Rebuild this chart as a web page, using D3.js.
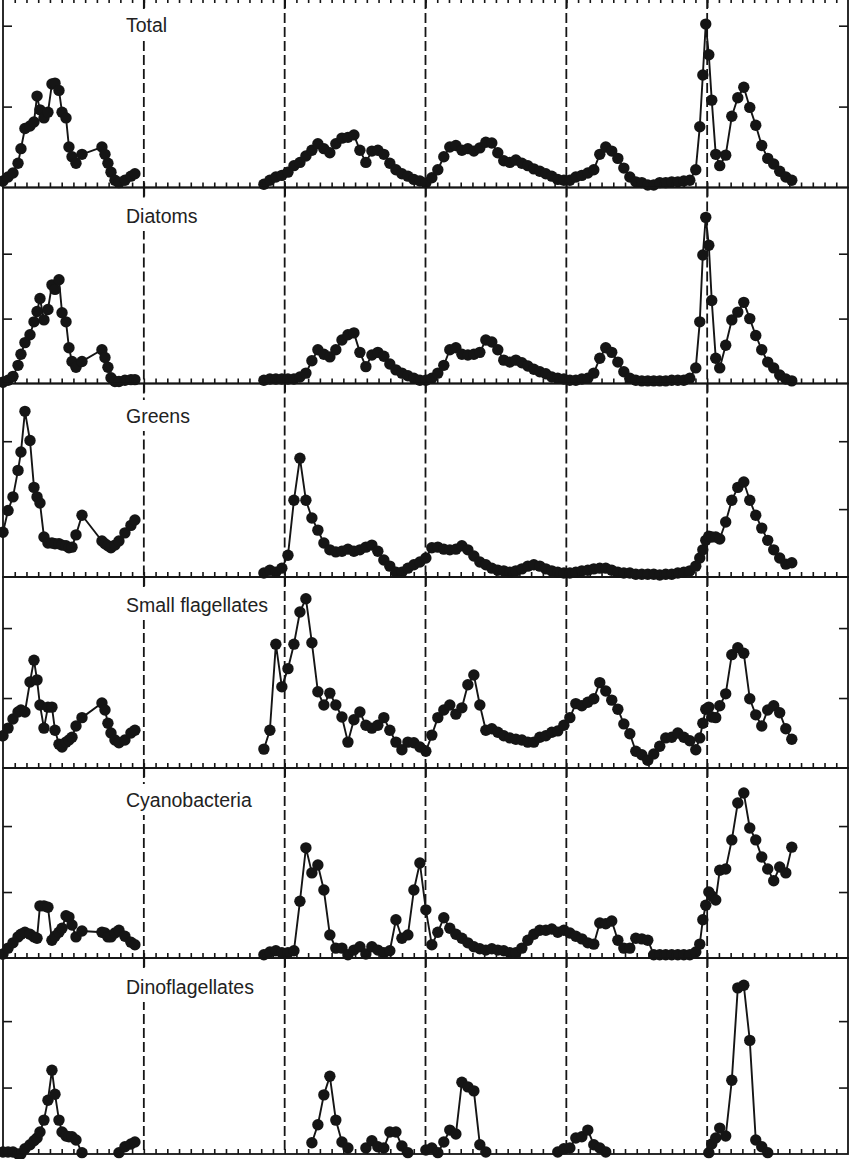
<!DOCTYPE html>
<html>
<head>
<meta charset="utf-8">
<script src="https://cdn.jsdelivr.net/npm/d3@7"></script>
<style>
  body { margin: 0; background: #fff; }
  svg { display: block; }
</style>
</head>
<body>
<svg id="chart" width="850" height="1159"></svg>
<script>
// sampling dates, in months from the start of the record
const months = [
  0.00, 0.43, 0.85, 1.28, 1.53, 1.87, 2.30, 2.64, 2.90, 3.15, 3.49, 3.83, 4.17, 4.43, 4.77,
  5.03, 5.37, 5.62, 5.88, 6.22, 6.73, 8.43, 8.69, 8.94, 9.20, 9.54, 9.88, 10.39, 10.90, 11.24,
  22.23, 22.74, 23.25, 23.76, 24.28, 24.79, 25.30, 25.81, 26.32, 26.83, 27.34, 27.85, 28.36, 28.88, 29.39,
  29.90, 30.41, 30.92, 31.43, 31.94, 32.45, 32.96, 33.48, 33.99, 34.50, 35.01, 35.52, 36.03, 36.54, 37.05,
  37.56, 38.07, 38.59, 39.10, 39.61, 40.12, 40.63, 41.14, 41.65, 42.16, 42.67, 43.19, 43.70, 44.21, 44.72,
  45.23, 45.74, 46.25, 46.76, 47.27, 47.79, 48.30, 48.81, 49.32, 49.83, 50.34, 50.85, 51.36, 51.87, 52.39,
  52.90, 53.41, 53.92, 54.43, 54.94, 55.45, 55.96, 56.47, 56.98, 57.50, 58.01, 58.52,
  59.03, 59.37, 59.63, 59.88, 60.14, 60.39, 60.73, 61.07,
  61.58, 62.10, 62.61, 63.12, 63.63, 64.14, 64.65, 65.16, 65.67, 66.18, 66.70, 67.21
];

const total = [
  8, 13, 18, 30, 48, 73, 76, 81, 113, 96, 86, 93, 128, 129, 120,
  93, 86, 50, 38, 30, 41, 50, 41, 30, 19, 9, 6, 9, 14, 17,
  4, 9, 13, 15, 19, 27, 31, 39, 46, 54, 48, 43, 54, 61, 62,
  65, 46, 31, 45, 46, 41, 30, 22, 17, 14, 10, 8, 6, 12, 22,
  38, 50, 52, 46, 48, 45, 49, 56, 55, 43, 33, 31, 34, 30, 27,
  23, 20, 17, 14, 10, 9, 9, 13, 15, 18, 22, 41, 50, 45, 36,
  24, 13, 7, 6, 3, 3, 6, 6, 7, 7, 8, 9,
  22, 75, 139, 202, 164, 108, 41, 27,
  40, 88, 111, 124, 99, 77, 52, 36, 29, 20, 13, 9
];

const diatoms = [
  2, 5, 11, 28, 45, 63, 75, 95, 111, 131, 98, 114, 152, 145, 160,
  109, 95, 55, 34, 25, 34, 52, 40, 25, 9, 3, 3, 5, 6, 6,
  5, 7, 7, 7, 7, 7, 10, 16, 35, 52, 45, 41, 52, 67, 75,
  78, 48, 26, 44, 48, 42, 30, 21, 16, 12, 8, 5, 5, 8, 16,
  28, 52, 55, 45, 44, 45, 48, 67, 64, 52, 36, 33, 36, 32, 27,
  22, 18, 15, 10, 8, 7, 5, 5, 7, 8, 16, 39, 55, 48, 33,
  18, 8, 5, 4, 4, 4, 4, 4, 5, 5, 5, 8,
  24, 95, 198, 256, 213, 128, 39, 24,
  59, 98, 110, 125, 100, 74, 52, 33, 24, 13, 7, 4
];

const greens = [
  66, 98, 118, 157, 184, 244, 201, 132, 118, 109, 59, 50, 50, 49, 49,
  47, 46, 43, 44, 62, 91, 53, 49, 46, 43, 47, 53, 65, 76, 84,
  6, 10, 7, 13, 32, 113, 175, 113, 87, 69, 50, 40, 37, 38, 41,
  38, 40, 44, 47, 38, 25, 16, 7, 7, 13, 18, 22, 28, 43, 44,
  41, 40, 41, 46, 40, 31, 22, 18, 13, 10, 9, 7, 9, 12, 16,
  18, 16, 12, 9, 7, 6, 6, 7, 9, 10, 12, 13, 13, 10, 7,
  6, 6, 4, 4, 4, 4, 3, 4, 4, 6, 7, 9,
  16, 28, 40, 54, 60, 59, 59, 56,
  81, 113, 132, 140, 113, 91, 72, 54, 40, 28, 19, 21
];

const smallFlagellates = [
  46, 57, 70, 80, 83, 80, 123, 154, 126, 90, 57, 87, 87, 54, 34,
  30, 37, 40, 44, 60, 72, 93, 83, 64, 50, 40, 36, 40, 50, 54,
  27, 54, 177, 116, 142, 177, 223, 242, 179, 109, 90, 107, 90, 73, 37,
  69, 80, 61, 57, 61, 72, 54, 37, 26, 37, 36, 30, 24, 47, 72,
  83, 90, 77, 86, 119, 133, 90, 54, 56, 51, 46, 43, 41, 40, 37,
  37, 44, 46, 51, 53, 61, 72, 92, 89, 94, 99, 122, 110, 97, 84,
  63, 49, 24, 19, 11, 20, 31, 43, 44, 50, 44, 39,
  26, 43, 64, 84, 87, 73, 72, 89,
  106, 162, 172, 164, 99, 76, 60, 83, 89, 79, 56, 41
];

const cyanobacteria = [
  6, 15, 23, 32, 36, 39, 36, 32, 30, 79, 79, 77, 27, 33, 39,
  45, 64, 62, 50, 32, 41, 39, 38, 32, 32, 38, 42, 33, 24, 20,
  5, 9, 11, 8, 8, 11, 86, 167, 129, 141, 103, 35, 15, 15, 5,
  12, 17, 6, 17, 12, 8, 11, 58, 30, 35, 103, 144, 73, 20, 39,
  61, 45, 36, 30, 23, 17, 14, 12, 14, 12, 11, 8, 8, 15, 27,
  36, 42, 42, 44, 39, 42, 38, 33, 29, 23, 21, 53, 52, 56, 27,
  15, 15, 30, 29, 27, 5, 5, 5, 5, 5, 5, 5,
  9, 21, 58, 80, 100, 94, 88, 133,
  135, 179, 235, 250, 197, 179, 153, 135, 117, 138, 129, 168
];

// null = nothing plotted on that date
const dinoflagellates = [
  3, 3, 3, 0, 0, 8, 14, 20, 24, 33, 51, 81, 126, 90, 51,
  33, 27, 26, 26, 21, 2, null, null, null, null, null, 2, 11, 15, 18,
  null, null, null, null, null, null, null, null, 17, 44, 89, 117, 51, 18, 9,
  null, null, 9, 20, 11, 9, 33, 33, 12, 2, null, null, 6, 9, 2,
  18, 36, 30, 108, 101, 95, 14, 3, null, null, null, null, null, null, null,
  null, null, null, null, 3, 8, 9, 24, 26, 36, 14, 9, 3, null, null,
  null, null, null, null, null, null, null, null, null, null, null, null,
  null, null, null, null, 2, 15, 24, 39,
  27, 111, 250, 254, 171, 21, 11, 2, null, null, null, null
];

const panelNames = ["Total", "Diatoms", "Greens", "Small flagellates", "Cyanobacteria", "Dinoflagellates"];
const panelSeries = [total, diatoms, greens, smallFlagellates, cyanobacteria, dinoflagellates];
const panelMax = [233, 302, 285, 273, 288, 295];
const yTicks = [100, 200];
const yearTicks = [12, 24, 36, 48, 60];
const monthTicks = d3.range(1, 72);

// layout
const panelTop = [-1, 187.5, 383.5, 577, 768, 958];
const panelBottom = [187.5, 383.5, 577, 768, 958, 1154];
const labelOffset = [33, 35.5, 39.5, 35, 39, 36];
const left = 3, right = 848;
const ink = "#151515";

const svg = d3.select("#chart");
const x = d3.scaleLinear().domain([0, 72]).range([left, right]);

panelNames.forEach((name, i) => {
    const top = panelTop[i], bottom = panelBottom[i];
    const y = d3.scaleLinear().domain([0, panelMax[i]]).range([bottom, top]);
    const g = svg.append("g");

    // year boundaries
    g.append("g")
        .selectAll("line")
        .data(yearTicks)
        .enter()
        .append("line")
        .attr("x1", d => x(d))
        .attr("x2", d => x(d))
        .attr("y1", top)
        .attr("y2", bottom)
        .attr("stroke", ink)
        .attr("stroke-width", 1.8)
        .attr("stroke-dasharray", "10,4");

    // label with white box (it breaks the dashed line)
    const label = g.append("text")
        .attr("x", 126)
        .attr("y", top + labelOffset[i])
        .style("font-family", "'Liberation Sans', Arial, Helvetica, sans-serif")
        .style("font-size", "19.5px")
        .attr("fill", "#222")
        .text(name);
    const bb = label.node().getBBox();
    g.insert("rect", "text")
        .attr("x", bb.x - 4)
        .attr("y", bb.y - 5)
        .attr("width", bb.width + 8)
        .attr("height", bb.height + 9)
        .attr("fill", "#fff");

    // points, with a break at long sampling gaps
    const values = panelSeries[i];
    const pts = [];
    months.forEach((m, k) => {
        if (k > 0 && m - months[k - 1] > 3) pts.push({ gap: true });
        pts.push({ m: m, v: values[k] });
    });

    const line = d3.line()
        .defined(d => !d.gap && d.v != null)
        .x(d => x(d.m))
        .y(d => y(d.v));

    g.append("path")
        .datum(pts)
        .attr("d", line)
        .attr("fill", "none")
        .attr("stroke", ink)
        .attr("stroke-width", 1.9)
        .attr("stroke-linejoin", "round");

    g.append("g")
        .selectAll("circle")
        .data(pts.filter(d => !d.gap && d.v != null))
        .enter()
        .append("circle")
        .attr("cx", d => x(d.m))
        .attr("cy", d => y(d.v))
        .attr("r", 5.7)
        .attr("fill", ink);

    // axes: ticks point inward
    const axes = g.append("g");
    axes.append("g")
        .attr("transform", `translate(${left},0)`)
        .call(d3.axisRight(y).tickValues(yTicks).tickSize(9).tickSizeOuter(0).tickFormat(""));
    axes.append("g")
        .attr("transform", `translate(${right},0)`)
        .call(d3.axisLeft(y).tickValues(yTicks).tickSize(9).tickSizeOuter(0).tickFormat(""));
    axes.append("g")
        .attr("transform", `translate(0,${bottom})`)
        .call(d3.axisTop(x).tickValues(monthTicks).tickSize(5).tickSizeOuter(0).tickFormat(""));
    axes.append("g")
        .attr("transform", `translate(0,${top})`)
        .call(d3.axisBottom(x).tickValues(yearTicks).tickSize(9).tickSizeOuter(0).tickFormat(""));
    if (i === 0) {
        axes.append("g")
            .attr("transform", `translate(0,${top})`)
            .call(d3.axisBottom(x).tickValues(monthTicks).tickSize(4).tickSizeOuter(0).tickFormat(""));
    }
    axes.selectAll(".domain").remove();
    axes.selectAll(".tick line").attr("stroke", ink).attr("stroke-width", 1.6);

    g.append("rect")
        .attr("x", left)
        .attr("y", top)
        .attr("width", right - left)
        .attr("height", bottom - top)
        .attr("fill", "none")
        .attr("stroke", ink)
        .attr("stroke-width", 1.8);
});
</script>
</body>
</html>
